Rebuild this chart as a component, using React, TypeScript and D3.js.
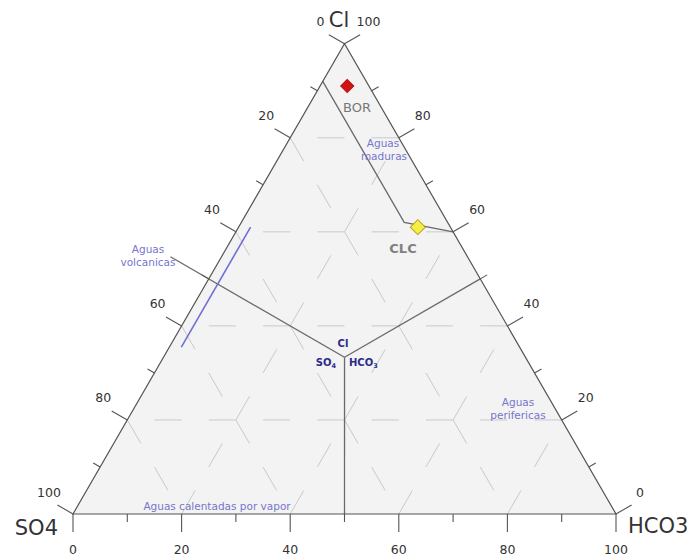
import React from 'react';
import * as d3 from 'd3';

const W = 692;
const H = 558;

// axis ticks (percent)
const tickValues = [0, 10, 20, 30, 40, 50, 60, 70, 80, 90, 100];
const labelValues = [0, 20, 40, 60, 80, 100];
const gridValues = [20, 40, 60, 80];

// samples: [Cl, SO4, HCO3] in %
const sampleNames = ['BOR', 'CLC'];
const sampleCl = [91, 61];
const sampleSO4 = [4, 6];
const sampleHCO3 = [5, 33];
const sampleFill = ['#d21414', '#f5ee45'];
const sampleStroke = ['#b31010', '#b3a11e'];

// field boundaries, as [Cl, SO4, HCO3]
const centre = [33.33, 33.33, 33.34];
const toBottom = [centre, [0, 50, 50]];
const toRight = [centre, [50, 0, 50]];
const toLeftLabel = [centre, [54.7, 54.7, -9.4]];
const matureLine = [[92, 8, 0], [62, 8, 30], [60, 0, 40]];
const volcanicLine = [[35.5, 62.3, 2.2], [61, 36.8, 2.2]];

const FONT = 'DejaVu Sans, Liberation Sans, Arial, sans-serif';

export default function App() {
  const side = 543;
  const h = (side * Math.sqrt(3)) / 2;
  const xS = d3.scaleLinear().domain([0, 100]).range([73, 73 + side]);
  const yS = d3.scaleLinear().domain([0, 100]).range([514, 514 - h]);
  const proj = (cl: number, so4: number, hco3: number): [number, number] => {
    const s = cl + so4 + hco3;
    return [xS(((hco3 + cl / 2) * 100) / s), yS((cl * 100) / s)];
  };
  const line = d3
    .line<number[]>()
    .x((d) => proj(d[0], d[1], d[2])[0])
    .y((d) => proj(d[0], d[1], d[2])[1]);

  const A = proj(100, 0, 0);
  const L = proj(0, 100, 0);
  const R = proj(0, 0, 100);
  const tri = `M${L[0]},${L[1]}L${R[0]},${R[1]}L${A[0]},${A[1]}Z`;

  const c30 = Math.cos(Math.PI / 6);
  const s30 = 0.5;
  const unit = side / 100;
  const dash = 5 * unit;

  // grid lines: horizontal (Cl=k) left->right, "/" (HCO3=k) right edge->bottom, "\" (SO4=k) bottom->left edge
  const grid: { a: [number, number]; b: [number, number] }[] = [];
  gridValues.forEach((k) => {
    grid.push({ a: proj(k, 100 - k, 0), b: proj(k, 0, 100 - k) });
    grid.push({ a: proj(100 - k, 0, k), b: proj(0, 100 - k, k) });
    grid.push({ a: proj(0, k, 100 - k), b: proj(100 - k, k, 0) });
  });

  const ticks: { x1: number; y1: number; x2: number; y2: number }[] = [];
  tickValues.forEach((v) => {
    const len = v % 20 === 0 ? 18 : 8;
    const b = proj(0, 100 - v, v);
    ticks.push({ x1: b[0], y1: b[1], x2: b[0], y2: b[1] + len });
    const l = proj(100 - v, v, 0);
    ticks.push({ x1: l[0], y1: l[1], x2: l[0] - c30 * len, y2: l[1] - s30 * len });
    const r = proj(v, 0, 100 - v);
    ticks.push({ x1: r[0], y1: r[1], x2: r[0] + c30 * len, y2: r[1] - s30 * len });
  });

  const sym = d3.symbol().type(d3.symbolSquare);

  return (
    <svg
      width={W}
      height={H}
      style={{ position: 'absolute', left: 0, top: 0, background: '#ffffff' }}
      fontFamily={FONT}
    >
      <path d={tri} fill="#f3f3f3" stroke="none" />
      {grid.map((g, i) => (
        <line
          key={'g' + i}
          x1={g.a[0]}
          y1={g.a[1]}
          x2={g.b[0]}
          y2={g.b[1]}
          stroke="#c9c9c9"
          strokeWidth={1}
          strokeDasharray={`${dash} ${dash}`}
          strokeDashoffset={dash}
        />
      ))}
      {/* field boundaries */}
      {[toBottom, toRight, toLeftLabel].map((p, i) => (
        <path key={'b' + i} d={line(p as number[][]) || ''} fill="none" stroke="#6a6a6a" strokeWidth={1.3} />
      ))}
      <path d={line(matureLine) || ''} fill="none" stroke="#6a6a6a" strokeWidth={1.3} />
      <path d={line(volcanicLine) || ''} fill="none" stroke="#6f6fd6" strokeWidth={1.6} />
      {/* triangle outline */}
      <path d={tri} fill="none" stroke="#555" strokeWidth={1.2} />
      {ticks.map((t, i) => (
        <line key={'t' + i} x1={t.x1} y1={t.y1} x2={t.x2} y2={t.y2} stroke="#555" strokeWidth={1.1} />
      ))}
      {/* tick labels */}
      {labelValues.map((v) => {
        const b = proj(0, 100 - v, v);
        const l = proj(100 - v, v, 0);
        const r = proj(v, 0, 100 - v);
        return (
          <g key={'l' + v} fontSize={12.5} fill="#333">
            <text x={b[0]} y={554} textAnchor="middle">{v}</text>
            <text x={l[0] - 24} y={l[1] - 22 + 4.5} textAnchor="middle">{v}</text>
            <text x={r[0] + 24} y={r[1] - 22 + 4.5} textAnchor="middle">{v}</text>
          </g>
        );
      })}
      {/* vertex labels */}
      <text x={339} y={27} fontSize={21} fill="#333" textAnchor="middle">Cl</text>
      <text x={58} y={535} fontSize={21} fill="#333" textAnchor="end">SO4</text>
      <text x={628} y={533} fontSize={21} fill="#333" textAnchor="start">HCO3</text>
      {/* centre labels */}
      <g fontSize={10} fontWeight="bold" fill="#2b2b8c">
        <text x={343} y={347} textAnchor="middle">Cl</text>
        <text x={336} y={366} textAnchor="end">
          SO<tspan fontSize={6.5} dy={2}>4</tspan>
        </text>
        <text x={349} y={366} textAnchor="start">
          HCO<tspan fontSize={6.5} dy={2}>3</tspan>
        </text>
      </g>
      {/* field labels */}
      <g fontSize={10.5} fill="#7676cc" textAnchor="middle">
        <text x={383} y={147}>Aguas</text>
        <text x={384} y={160}>maduras</text>
        <text x={148} y={253}>Aguas</text>
        <text x={148} y={266}>volcanicas</text>
        <text x={518} y={406}>Aguas</text>
        <text x={518} y={419}>perifericas</text>
        <text x={217} y={510}>Aguas calentadas por vapor</text>
      </g>
      {/* samples */}
      {sampleNames.map((n, i) => {
        const p = proj(sampleCl[i], sampleSO4[i], sampleHCO3[i]);
        const size = i === 0 ? 85 : 112;
        return (
          <path
            key={n}
            d={sym.size(size)() || ''}
            transform={`translate(${p[0]},${p[1]}) rotate(45)`}
            fill={sampleFill[i]}
            stroke={sampleStroke[i]}
            strokeWidth={1}
          />
        );
      })}
      <text x={357} y={112} fontSize={13} fill="#777" textAnchor="middle">BOR</text>
      <text x={403} y={253} fontSize={13} fontWeight="bold" fill="#808080" textAnchor="middle">CLC</text>
    </svg>
  );
}
